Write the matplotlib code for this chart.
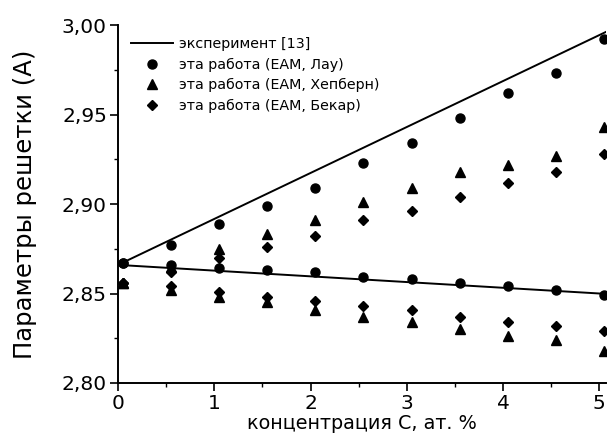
import numpy as np
import matplotlib
matplotlib.use('Agg')
import matplotlib.pyplot as plt
from matplotlib.ticker import MultipleLocator, FuncFormatter

# the scanned figure uses a wide sans face, DejaVu is closest in width
plt.rcParams['font.family'] = ['DejaVu Sans']

# concentration C, at. %
conc = [0.05, 0.55, 1.05, 1.55, 2.05, 2.55, 3.05, 3.55, 4.05, 4.55, 5.05]

# EAM, Lau (c and a branches)
lau_up = [2.867, 2.877, 2.889, 2.899, 2.909, 2.923, 2.934, 2.948, 2.962, 2.973, 2.992]
lau_lo = [2.867, 2.866, 2.864, 2.863, 2.862, 2.859, 2.858, 2.856, 2.854, 2.852, 2.849]

# EAM, Hepburn
hep_up = [2.856, 2.865, 2.875, 2.883, 2.891, 2.901, 2.909, 2.918, 2.922, 2.927, 2.943]
hep_lo = [2.856, 2.852, 2.848, 2.845, 2.841, 2.837, 2.834, 2.830, 2.826, 2.824, 2.818]

# EAM, Becquart
bek_up = [2.856, 2.862, 2.870, 2.876, 2.882, 2.891, 2.896, 2.904, 2.912, 2.918, 2.928]
bek_lo = [2.856, 2.854, 2.851, 2.848, 2.846, 2.843, 2.841, 2.837, 2.834, 2.832, 2.829]

# experiment [13], straight lines
exp_c = [0.0, 5.1]
exp_up = [2.866, 2.997]
exp_lo = [2.866, 2.8497]

fig = plt.figure(figsize=(6.07, 4.44), dpi=100)
ax = fig.add_axes([0.1944, 0.1374, 0.804, 0.806])

ax.plot(exp_c, exp_up, color='black', lw=1.4, label='эксперимент [13]')
ax.plot(exp_c, exp_lo, color='black', lw=1.4)

ms = dict(color='black', linestyle='none', clip_on=False)
ax.plot(conc, lau_up, marker='o', markersize=6.5, label='эта работа (EAM, Лау)', **ms)
ax.plot(conc, lau_lo, marker='o', markersize=6.5, **ms)
ax.plot(conc, hep_up, marker='^', markersize=6.5, label='эта работа (EAM, Хепберн)', **ms)
ax.plot(conc, hep_lo, marker='^', markersize=6.5, **ms)
ax.plot(conc, bek_up, marker='D', markersize=5, label='эта работа (EAM, Бекар)', **ms)
ax.plot(conc, bek_lo, marker='D', markersize=5, **ms)

ax.set_xlim(0, 5.07)
ax.set_ylim(2.80, 3.00)
ax.xaxis.set_major_locator(MultipleLocator(1))
ax.xaxis.set_minor_locator(MultipleLocator(0.5))
ax.yaxis.set_major_locator(MultipleLocator(0.05))
ax.yaxis.set_minor_locator(MultipleLocator(0.025))
ax.yaxis.set_major_formatter(FuncFormatter(lambda v, p: f'{v:.2f}'.replace('.', ',')))

for s in ['top', 'right']:
    ax.spines[s].set_visible(False)
for s in ['left', 'bottom']:
    ax.spines[s].set_linewidth(1.4)
ax.tick_params(which='major', direction='out', length=6, width=1.2, labelsize=14.5, pad=2)
ax.tick_params(which='minor', direction='out', length=3, width=1.0)

ax.set_xlabel('концентрация C, ат. %', fontsize=13.8, labelpad=1)
ax.set_ylabel('Параметры решетки (A)', fontsize=17.5, labelpad=18)

ax.legend(loc='upper left', bbox_to_anchor=(0.01, 0.99), frameon=False,
          fontsize=10.3, handlelength=2.9, handletextpad=0.4, labelspacing=0.45,
          borderaxespad=0.2)

fig.savefig('out.png', dpi=100)
